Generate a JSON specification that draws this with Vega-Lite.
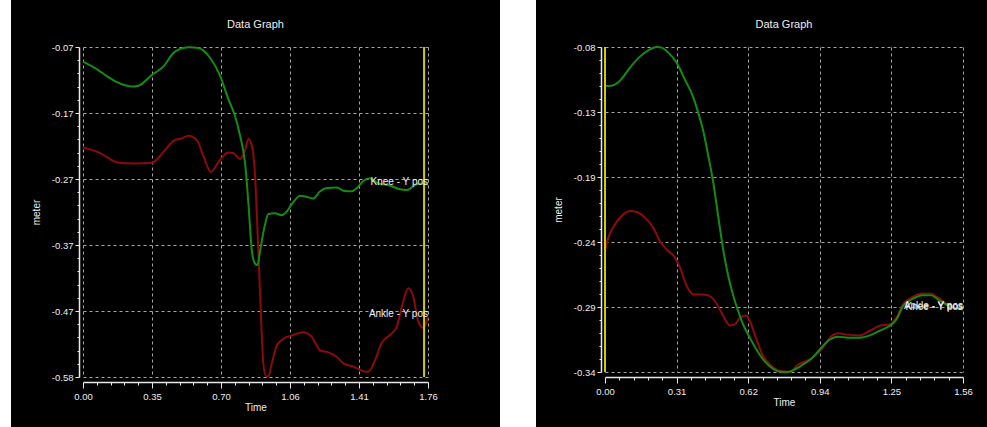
{
  "$schema": "https://vega.github.io/schema/vega-lite/v6.json",
  "background": "white",
  "padding": {"left": -41, "top": -53, "right": -54, "bottom": -58},
  "spacing": 177,
  "bounds": "flush",
  "config": {
    "view": {"stroke": "black", "fill": "black"},
    "font": "Liberation Sans",
    "title": {"color": "#eeeeee", "fontSize": 11, "fontWeight": "normal", "offset": 12, "font": "Liberation Sans"},
    "axis": {
      "labelFont": "Liberation Sans", "labelFontSize": 9.5, "labelColor": "#eeeeee",
      "titleFont": "Liberation Sans", "titleFontSize": 10, "titleFontWeight": "normal", "titleColor": "#eeeeee",
      "domainColor": "#e8e8e8", "domainWidth": 1.5, "tickColor": "#e8e8e8", "tickWidth": 1,
      "gridColor": "#a6a6a6", "gridDash": [3, 3], "gridWidth": 1, "gridOpacity": 1,
      "labelFlush": false, "labelOverlap": false, "labelBound": false
    }
  },
  "datasets": {
    "leftLines": [
      {"series": "Ankle - Y pos", "t": 0.0, "v": -0.225},
      {"series": "Ankle - Y pos", "t": 0.088, "v": -0.234},
      {"series": "Ankle - Y pos", "t": 0.181, "v": -0.249},
      {"series": "Ankle - Y pos", "t": 0.258, "v": -0.25},
      {"series": "Ankle - Y pos", "t": 0.352, "v": -0.249},
      {"series": "Ankle - Y pos", "t": 0.411, "v": -0.232},
      {"series": "Ankle - Y pos", "t": 0.462, "v": -0.215},
      {"series": "Ankle - Y pos", "t": 0.505, "v": -0.211},
      {"series": "Ankle - Y pos", "t": 0.538, "v": -0.207},
      {"series": "Ankle - Y pos", "t": 0.581, "v": -0.214},
      {"series": "Ankle - Y pos", "t": 0.615, "v": -0.239},
      {"series": "Ankle - Y pos", "t": 0.652, "v": -0.263},
      {"series": "Ankle - Y pos", "t": 0.7, "v": -0.244},
      {"series": "Ankle - Y pos", "t": 0.742, "v": -0.233},
      {"series": "Ankle - Y pos", "t": 0.768, "v": -0.234},
      {"series": "Ankle - Y pos", "t": 0.802, "v": -0.243},
      {"series": "Ankle - Y pos", "t": 0.827, "v": -0.229},
      {"series": "Ankle - Y pos", "t": 0.844, "v": -0.212},
      {"series": "Ankle - Y pos", "t": 0.864, "v": -0.226},
      {"series": "Ankle - Y pos", "t": 0.878, "v": -0.27},
      {"series": "Ankle - Y pos", "t": 0.89, "v": -0.353},
      {"series": "Ankle - Y pos", "t": 0.904, "v": -0.456},
      {"series": "Ankle - Y pos", "t": 0.92, "v": -0.559},
      {"series": "Ankle - Y pos", "t": 0.934, "v": -0.579},
      {"series": "Ankle - Y pos", "t": 0.946, "v": -0.579},
      {"series": "Ankle - Y pos", "t": 0.963, "v": -0.559},
      {"series": "Ankle - Y pos", "t": 0.989, "v": -0.531},
      {"series": "Ankle - Y pos", "t": 1.022, "v": -0.521},
      {"series": "Ankle - Y pos", "t": 1.073, "v": -0.515},
      {"series": "Ankle - Y pos", "t": 1.124, "v": -0.511},
      {"series": "Ankle - Y pos", "t": 1.167, "v": -0.518},
      {"series": "Ankle - Y pos", "t": 1.21, "v": -0.539},
      {"series": "Ankle - Y pos", "t": 1.252, "v": -0.542},
      {"series": "Ankle - Y pos", "t": 1.295, "v": -0.549},
      {"series": "Ankle - Y pos", "t": 1.328, "v": -0.559},
      {"series": "Ankle - Y pos", "t": 1.379, "v": -0.564},
      {"series": "Ankle - Y pos", "t": 1.413, "v": -0.569},
      {"series": "Ankle - Y pos", "t": 1.447, "v": -0.572},
      {"series": "Ankle - Y pos", "t": 1.464, "v": -0.57},
      {"series": "Ankle - Y pos", "t": 1.49, "v": -0.554},
      {"series": "Ankle - Y pos", "t": 1.524, "v": -0.527},
      {"series": "Ankle - Y pos", "t": 1.566, "v": -0.515},
      {"series": "Ankle - Y pos", "t": 1.6, "v": -0.503},
      {"series": "Ankle - Y pos", "t": 1.626, "v": -0.472},
      {"series": "Ankle - Y pos", "t": 1.66, "v": -0.443},
      {"series": "Ankle - Y pos", "t": 1.685, "v": -0.456},
      {"series": "Ankle - Y pos", "t": 1.711, "v": -0.495},
      {"series": "Ankle - Y pos", "t": 1.736, "v": -0.504},
      {"series": "Ankle - Y pos", "t": 1.76, "v": -0.487},
      {"series": "Knee - Y pos", "t": 0.0, "v": -0.0926},
      {"series": "Knee - Y pos", "t": 0.0796, "v": -0.106},
      {"series": "Knee - Y pos", "t": 0.122, "v": -0.115},
      {"series": "Knee - Y pos", "t": 0.165, "v": -0.123},
      {"series": "Knee - Y pos", "t": 0.258, "v": -0.131},
      {"series": "Knee - Y pos", "t": 0.283, "v": -0.13},
      {"series": "Knee - Y pos", "t": 0.352, "v": -0.113},
      {"series": "Knee - Y pos", "t": 0.411, "v": -0.1},
      {"series": "Knee - Y pos", "t": 0.462, "v": -0.079},
      {"series": "Knee - Y pos", "t": 0.496, "v": -0.073},
      {"series": "Knee - Y pos", "t": 0.538, "v": -0.0705},
      {"series": "Knee - Y pos", "t": 0.589, "v": -0.0715},
      {"series": "Knee - Y pos", "t": 0.649, "v": -0.087},
      {"series": "Knee - Y pos", "t": 0.7, "v": -0.115},
      {"series": "Knee - Y pos", "t": 0.742, "v": -0.151},
      {"series": "Knee - Y pos", "t": 0.776, "v": -0.177},
      {"series": "Knee - Y pos", "t": 0.802, "v": -0.208},
      {"series": "Knee - Y pos", "t": 0.827, "v": -0.25},
      {"series": "Knee - Y pos", "t": 0.844, "v": -0.312},
      {"series": "Knee - Y pos", "t": 0.861, "v": -0.384},
      {"series": "Knee - Y pos", "t": 0.878, "v": -0.405},
      {"series": "Knee - Y pos", "t": 0.89, "v": -0.407},
      {"series": "Knee - Y pos", "t": 0.904, "v": -0.384},
      {"series": "Knee - Y pos", "t": 0.926, "v": -0.348},
      {"series": "Knee - Y pos", "t": 0.946, "v": -0.328},
      {"series": "Knee - Y pos", "t": 0.98, "v": -0.327},
      {"series": "Knee - Y pos", "t": 1.014, "v": -0.33},
      {"series": "Knee - Y pos", "t": 1.04, "v": -0.324},
      {"series": "Knee - Y pos", "t": 1.065, "v": -0.313},
      {"series": "Knee - Y pos", "t": 1.108, "v": -0.3},
      {"series": "Knee - Y pos", "t": 1.133, "v": -0.301},
      {"series": "Knee - Y pos", "t": 1.175, "v": -0.304},
      {"series": "Knee - Y pos", "t": 1.21, "v": -0.293},
      {"series": "Knee - Y pos", "t": 1.244, "v": -0.288},
      {"series": "Knee - Y pos", "t": 1.295, "v": -0.287},
      {"series": "Knee - Y pos", "t": 1.328, "v": -0.292},
      {"series": "Knee - Y pos", "t": 1.371, "v": -0.293},
      {"series": "Knee - Y pos", "t": 1.397, "v": -0.288},
      {"series": "Knee - Y pos", "t": 1.43, "v": -0.277},
      {"series": "Knee - Y pos", "t": 1.464, "v": -0.273},
      {"series": "Knee - Y pos", "t": 1.507, "v": -0.281},
      {"series": "Knee - Y pos", "t": 1.566, "v": -0.284},
      {"series": "Knee - Y pos", "t": 1.617, "v": -0.29},
      {"series": "Knee - Y pos", "t": 1.654, "v": -0.291},
      {"series": "Knee - Y pos", "t": 1.702, "v": -0.282},
      {"series": "Knee - Y pos", "t": 1.736, "v": -0.281},
      {"series": "Knee - Y pos", "t": 1.76, "v": -0.283}
    ],
    "leftLabels": [
      {"series": "Knee - Y pos", "t": 1.76, "v": -0.283},
      {"series": "Ankle - Y pos", "t": 1.76, "v": -0.487}
    ],
    "leftCursor": [{"t": 1.74}],
    "rightLines": [
      {"series": "Ankle - Y pos", "t": 0.0, "v": -0.2432},
      {"series": "Ankle - Y pos", "t": 0.0145, "v": -0.2325},
      {"series": "Ankle - Y pos", "t": 0.0435, "v": -0.2219},
      {"series": "Ankle - Y pos", "t": 0.0798, "v": -0.2139},
      {"series": "Ankle - Y pos", "t": 0.109, "v": -0.2112},
      {"series": "Ankle - Y pos", "t": 0.138, "v": -0.212},
      {"series": "Ankle - Y pos", "t": 0.174, "v": -0.2165},
      {"series": "Ankle - Y pos", "t": 0.21, "v": -0.2245},
      {"series": "Ankle - Y pos", "t": 0.239, "v": -0.2352},
      {"series": "Ankle - Y pos", "t": 0.268, "v": -0.2419},
      {"series": "Ankle - Y pos", "t": 0.305, "v": -0.2485},
      {"series": "Ankle - Y pos", "t": 0.327, "v": -0.2565},
      {"series": "Ankle - Y pos", "t": 0.356, "v": -0.2712},
      {"series": "Ankle - Y pos", "t": 0.385, "v": -0.2779},
      {"series": "Ankle - Y pos", "t": 0.421, "v": -0.2779},
      {"series": "Ankle - Y pos", "t": 0.45, "v": -0.2787},
      {"series": "Ankle - Y pos", "t": 0.479, "v": -0.2832},
      {"series": "Ankle - Y pos", "t": 0.508, "v": -0.2925},
      {"series": "Ankle - Y pos", "t": 0.544, "v": -0.3027},
      {"series": "Ankle - Y pos", "t": 0.566, "v": -0.3019},
      {"series": "Ankle - Y pos", "t": 0.588, "v": -0.2965},
      {"series": "Ankle - Y pos", "t": 0.617, "v": -0.2947},
      {"series": "Ankle - Y pos", "t": 0.631, "v": -0.2992},
      {"series": "Ankle - Y pos", "t": 0.66, "v": -0.3139},
      {"series": "Ankle - Y pos", "t": 0.689, "v": -0.3272},
      {"series": "Ankle - Y pos", "t": 0.726, "v": -0.3352},
      {"series": "Ankle - Y pos", "t": 0.762, "v": -0.3392},
      {"series": "Ankle - Y pos", "t": 0.805, "v": -0.3398},
      {"series": "Ankle - Y pos", "t": 0.842, "v": -0.334},
      {"series": "Ankle - Y pos", "t": 0.878, "v": -0.3312},
      {"series": "Ankle - Y pos", "t": 0.914, "v": -0.3272},
      {"series": "Ankle - Y pos", "t": 0.95, "v": -0.3205},
      {"series": "Ankle - Y pos", "t": 0.987, "v": -0.3112},
      {"series": "Ankle - Y pos", "t": 1.016, "v": -0.309},
      {"series": "Ankle - Y pos", "t": 1.045, "v": -0.3099},
      {"series": "Ankle - Y pos", "t": 1.11, "v": -0.3107},
      {"series": "Ankle - Y pos", "t": 1.154, "v": -0.307},
      {"series": "Ankle - Y pos", "t": 1.197, "v": -0.303},
      {"series": "Ankle - Y pos", "t": 1.241, "v": -0.3019},
      {"series": "Ankle - Y pos", "t": 1.27, "v": -0.2965},
      {"series": "Ankle - Y pos", "t": 1.299, "v": -0.2859},
      {"series": "Ankle - Y pos", "t": 1.335, "v": -0.2805},
      {"series": "Ankle - Y pos", "t": 1.386, "v": -0.2771},
      {"series": "Ankle - Y pos", "t": 1.422, "v": -0.2773},
      {"series": "Ankle - Y pos", "t": 1.451, "v": -0.2805},
      {"series": "Ankle - Y pos", "t": 1.487, "v": -0.2853},
      {"series": "Ankle - Y pos", "t": 1.516, "v": -0.288},
      {"series": "Ankle - Y pos", "t": 1.56, "v": -0.2893},
      {"series": "Knee - Y pos", "t": 0.0, "v": -0.1112},
      {"series": "Knee - Y pos", "t": 0.029, "v": -0.111},
      {"series": "Knee - Y pos", "t": 0.065, "v": -0.107},
      {"series": "Knee - Y pos", "t": 0.109, "v": -0.0965},
      {"series": "Knee - Y pos", "t": 0.152, "v": -0.0877},
      {"series": "Knee - Y pos", "t": 0.196, "v": -0.0819},
      {"series": "Knee - Y pos", "t": 0.225, "v": -0.08},
      {"series": "Knee - Y pos", "t": 0.247, "v": -0.0805},
      {"series": "Knee - Y pos", "t": 0.276, "v": -0.0845},
      {"series": "Knee - Y pos", "t": 0.312, "v": -0.0925},
      {"series": "Knee - Y pos", "t": 0.348, "v": -0.106},
      {"series": "Knee - Y pos", "t": 0.385, "v": -0.1205},
      {"series": "Knee - Y pos", "t": 0.406, "v": -0.1325},
      {"series": "Knee - Y pos", "t": 0.428, "v": -0.147},
      {"series": "Knee - Y pos", "t": 0.45, "v": -0.167},
      {"series": "Knee - Y pos", "t": 0.472, "v": -0.1885},
      {"series": "Knee - Y pos", "t": 0.493, "v": -0.215},
      {"series": "Knee - Y pos", "t": 0.515, "v": -0.242},
      {"series": "Knee - Y pos", "t": 0.537, "v": -0.263},
      {"series": "Knee - Y pos", "t": 0.559, "v": -0.279},
      {"series": "Knee - Y pos", "t": 0.58, "v": -0.291},
      {"series": "Knee - Y pos", "t": 0.602, "v": -0.302},
      {"series": "Knee - Y pos", "t": 0.631, "v": -0.3125},
      {"series": "Knee - Y pos", "t": 0.66, "v": -0.322},
      {"series": "Knee - Y pos", "t": 0.689, "v": -0.33},
      {"series": "Knee - Y pos", "t": 0.726, "v": -0.3366},
      {"series": "Knee - Y pos", "t": 0.762, "v": -0.3398},
      {"series": "Knee - Y pos", "t": 0.798, "v": -0.34},
      {"series": "Knee - Y pos", "t": 0.827, "v": -0.338},
      {"series": "Knee - Y pos", "t": 0.863, "v": -0.334},
      {"series": "Knee - Y pos", "t": 0.9, "v": -0.3293},
      {"series": "Knee - Y pos", "t": 0.936, "v": -0.322},
      {"series": "Knee - Y pos", "t": 0.972, "v": -0.315},
      {"series": "Knee - Y pos", "t": 1.016, "v": -0.3117},
      {"series": "Knee - Y pos", "t": 1.059, "v": -0.3125},
      {"series": "Knee - Y pos", "t": 1.11, "v": -0.3125},
      {"series": "Knee - Y pos", "t": 1.154, "v": -0.3107},
      {"series": "Knee - Y pos", "t": 1.197, "v": -0.307},
      {"series": "Knee - Y pos", "t": 1.241, "v": -0.303},
      {"series": "Knee - Y pos", "t": 1.27, "v": -0.298},
      {"series": "Knee - Y pos", "t": 1.299, "v": -0.287},
      {"series": "Knee - Y pos", "t": 1.335, "v": -0.282},
      {"series": "Knee - Y pos", "t": 1.386, "v": -0.2785},
      {"series": "Knee - Y pos", "t": 1.422, "v": -0.2787},
      {"series": "Knee - Y pos", "t": 1.451, "v": -0.282},
      {"series": "Knee - Y pos", "t": 1.487, "v": -0.286},
      {"series": "Knee - Y pos", "t": 1.516, "v": -0.2885},
      {"series": "Knee - Y pos", "t": 1.56, "v": -0.29}
    ],
    "rightLabels": [
      {"series": "Knee - Y pos", "t": 1.56, "v": -0.29},
      {"series": "Ankle - Y pos", "t": 1.56, "v": -0.2893}
    ],
    "rightCursor": [{"t": 0}]
  },
  "hconcat": [
    {
      "width": 345,
      "height": 330,
      "view": {"strokeWidth": 144},
      "title": "Data Graph",
      "layer": [
        {
          "data": {"name": "leftLines"},
          "mark": {"type": "line", "strokeWidth": 2, "interpolate": "monotone"},
          "encoding": {
            "x": {"field": "t", "type": "quantitative",
              "scale": {"domain": [0, 1.76], "nice": false, "zero": false},
              "axis": {"orient": "bottom", "title": "Time", "values": [0, 0.352, 0.704, 1.056, 1.408, 1.76], "format": ".2f",
                "grid": true, "offset": 5, "tickSize": 6, "labelPadding": 3, "titlePadding": 2}},
            "y": {"field": "v", "type": "quantitative",
              "scale": {"domain": [-0.58, -0.07], "nice": false, "zero": false},
              "axis": {"orient": "left", "title": "meter", "values": [-0.58, -0.478, -0.376, -0.274, -0.172, -0.07],
                "labelExpr": "datum.value < -0.53 ? '-0.58' : datum.value < -0.43 ? '-0.47' : datum.value < -0.33 ? '-0.37' : datum.value < -0.22 ? '-0.27' : datum.value < -0.12 ? '-0.17' : '-0.07'",
                "grid": true, "offset": 4, "tickSize": 4, "labelPadding": 2, "titlePadding": 10}},
            "color": {"field": "series", "type": "nominal",
              "scale": {"domain": ["Knee - Y pos", "Ankle - Y pos"], "range": ["#148c14", "#8c0a0a"]}, "legend": null}
          }
        },
        {
          "data": {"name": "leftCursor"},
          "mark": {"type": "rule", "color": "#cccc00", "strokeWidth": 2},
          "encoding": {
            "x": {"field": "t", "type": "quantitative", "axis": null}
          }
        },
        {
          "data": {"name": "leftLabels"},
          "mark": {"type": "text", "align": "right", "baseline": "alphabetic", "fontSize": 10, "color": "#eeeeee", "font": "Liberation Sans"},
          "encoding": {
            "x": {"field": "t", "type": "quantitative",
              "axis": {"orient": "bottom", "title": null, "labels": false, "grid": false, "domain": false, "offset": 5, "tickSize": 3,
                "values": [0.0704, 0.1408, 0.2112, 0.2816, 0.4224, 0.4928, 0.5632, 0.6336, 0.7744, 0.8448, 0.9152, 0.9856, 1.1264, 1.1968, 1.2672, 1.3376, 1.4784, 1.5488, 1.6192, 1.6896]}},
            "y": {"field": "v", "type": "quantitative",
              "axis": {"orient": "left", "title": null, "labels": false, "grid": false, "domain": false, "offset": 4, "tickSize": 2,
                "values": [-0.5596, -0.5392, -0.5188, -0.4984, -0.4576, -0.4372, -0.4168, -0.3964, -0.3556, -0.3352, -0.3148, -0.2944, -0.2536, -0.2332, -0.2128, -0.1924, -0.1516, -0.1312, -0.1108, -0.0904]}},
            "text": {"field": "series"}
          }
        }
      ],
      "resolve": {"axis": {"x": "independent", "y": "independent"}}
    },
    {
      "width": 358,
      "height": 325,
      "view": {"strokeWidth": 138},
      "title": "Data Graph",
      "layer": [
        {
          "data": {"name": "rightLines"},
          "mark": {"type": "line", "strokeWidth": 2, "interpolate": "monotone"},
          "encoding": {
            "x": {"field": "t", "type": "quantitative",
              "scale": {"domain": [0, 1.56], "nice": false, "zero": false},
              "axis": {"orient": "bottom", "title": "Time", "values": [0, 0.312, 0.624, 0.936, 1.248, 1.56], "format": ".2f",
                "grid": true, "offset": 5, "tickSize": 6, "labelPadding": 3, "titlePadding": 2}},
            "y": {"field": "v", "type": "quantitative",
              "scale": {"domain": [-0.34, -0.08], "nice": false, "zero": false},
              "axis": {"orient": "left", "title": "meter", "values": [-0.34, -0.288, -0.236, -0.184, -0.132, -0.08],
                "labelExpr": "datum.value < -0.31 ? '-0.34' : datum.value < -0.26 ? '-0.29' : datum.value < -0.21 ? '-0.24' : datum.value < -0.16 ? '-0.19' : datum.value < -0.1 ? '-0.13' : '-0.08'",
                "grid": true, "offset": 4, "tickSize": 4, "labelPadding": 2, "titlePadding": 10}},
            "color": {"field": "series", "type": "nominal",
              "scale": {"domain": ["Knee - Y pos", "Ankle - Y pos"], "range": ["#148c14", "#8c0a0a"]}, "legend": null}
          }
        },
        {
          "data": {"name": "rightCursor"},
          "mark": {"type": "rule", "color": "#cccc00", "strokeWidth": 2},
          "encoding": {
            "x": {"field": "t", "type": "quantitative", "axis": null}
          }
        },
        {
          "data": {"name": "rightLabels"},
          "mark": {"type": "text", "align": "right", "baseline": "alphabetic", "fontSize": 10, "color": "#eeeeee", "font": "Liberation Sans"},
          "encoding": {
            "x": {"field": "t", "type": "quantitative",
              "axis": {"orient": "bottom", "title": null, "labels": false, "grid": false, "domain": false, "offset": 5, "tickSize": 3,
                "values": [0.0624, 0.1248, 0.1872, 0.2496, 0.3744, 0.4368, 0.4992, 0.5616, 0.6864, 0.7488, 0.8112, 0.8736, 0.9984, 1.0608, 1.1232, 1.1856, 1.3104, 1.3728, 1.4352, 1.4976]}},
            "y": {"field": "v", "type": "quantitative",
              "axis": {"orient": "left", "title": null, "labels": false, "grid": false, "domain": false, "offset": 4, "tickSize": 2,
                "values": [-0.3296, -0.3192, -0.3088, -0.2984, -0.2776, -0.2672, -0.2568, -0.2464, -0.2256, -0.2152, -0.2048, -0.1944, -0.1736, -0.1632, -0.1528, -0.1424, -0.1216, -0.1112, -0.1008, -0.0904]}},
            "text": {"field": "series"}
          }
        }
      ],
      "resolve": {"axis": {"x": "independent", "y": "independent"}}
    }
  ]
}
